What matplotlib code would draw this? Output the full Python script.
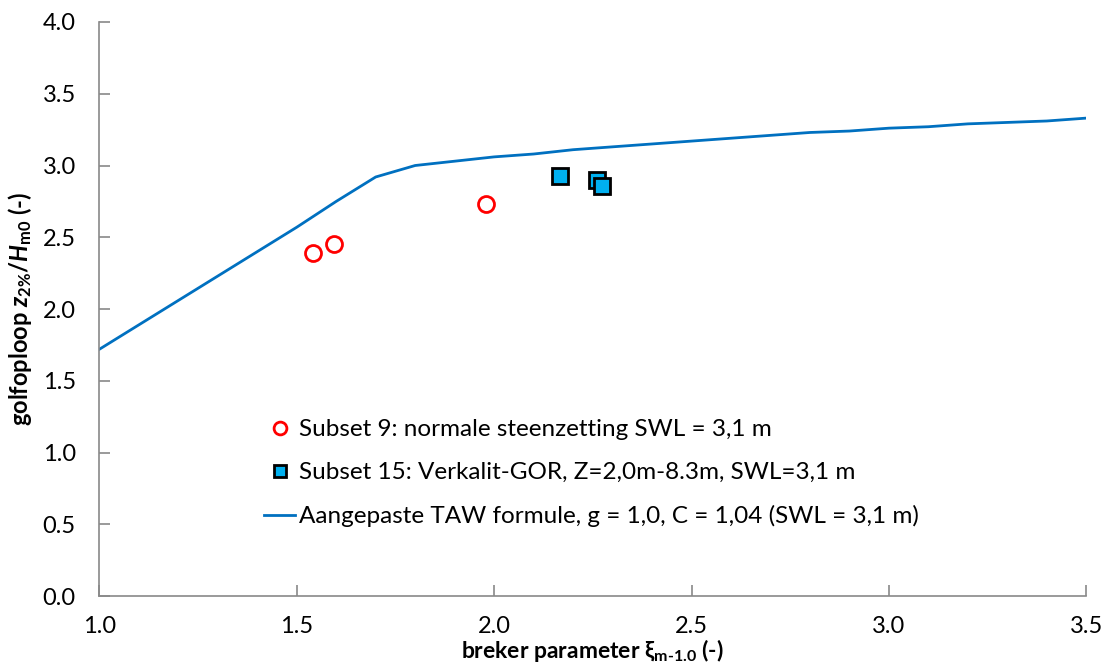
import matplotlib
matplotlib.use('Agg')
import matplotlib.pyplot as plt

# subset 9 (normale steenzetting)
xi_s9 = [1.54, 1.595, 1.98]
z_s9 = [2.39, 2.45, 2.73]

# subset 15 (Verkalit-GOR)
xi_s15 = [2.168, 2.26, 2.272]
z_s15 = [2.93, 2.90, 2.86]

# aangepaste TAW formule
xi_taw = [1.0, 1.1, 1.2, 1.3, 1.4, 1.5, 1.6, 1.7, 1.8, 1.9, 2.0, 2.1, 2.2,
          2.3, 2.4, 2.5, 2.6, 2.7, 2.8, 2.9, 3.0, 3.1, 3.2, 3.3, 3.4, 3.5]
z_taw = [1.72, 1.89, 2.06, 2.23, 2.40, 2.57, 2.75, 2.92, 3.00, 3.03, 3.06,
         3.08, 3.11, 3.13, 3.15, 3.17, 3.19, 3.21, 3.23, 3.24, 3.26, 3.27,
         3.29, 3.30, 3.31, 3.33]

xticks = [1.0, 1.5, 2.0, 2.5, 3.0, 3.5]
yticks = [0.0, 0.5, 1.0, 1.5, 2.0, 2.5, 3.0, 3.5, 4.0]

plt.rcParams['font.family'] = ['Lato', 'DejaVu Sans']
plt.rcParams['mathtext.fontset'] = 'custom'
plt.rcParams['mathtext.rm'] = 'Lato:bold'
plt.rcParams['mathtext.it'] = 'Lato:italic:bold'
plt.rcParams['mathtext.bf'] = 'Lato:bold'

fig = plt.figure(figsize=(11.06, 6.64), dpi=100)
ax = fig.add_axes([0.0898, 0.102, 0.8924, 0.865])

ax.plot(xi_s9, z_s9, 'o', ms=11.5, mfc='white', mec='#FF0000', mew=2,
        label='Subset 9: normale steenzetting SWL = 3,1 m', zorder=3)
ax.plot(xi_s15, z_s15, 's', ms=11.5, mfc='#00B0F0', mec='black', mew=2,
        label='Subset 15: Verkalit-GOR, Z=2,0m-8.3m, SWL=3,1 m', zorder=3)
ax.plot(xi_taw, z_taw, '-', color='#0070C0', lw=2,
        label='Aangepaste TAW formule, g = 1,0, C = 1,04 (SWL = 3,1 m)', zorder=2)

ax.set_xlim(1.0, 3.5)
ax.set_ylim(0.0, 4.0)
ax.set_xticks(xticks)
ax.set_yticks(yticks)
ax.set_xticklabels(['%.1f' % v for v in xticks])
ax.set_yticklabels(['%.1f' % v for v in yticks])
ax.tick_params(direction='in', length=8, width=1.2, color='#898989',
               labelsize=17)
ax.tick_params(axis='y', pad=17)
ax.tick_params(axis='x', pad=14)
for s in ['top', 'right']:
    ax.spines[s].set_visible(False)
for s in ['left', 'bottom']:
    ax.spines[s].set_color('#898989')
    ax.spines[s].set_linewidth(1.2)

ax.set_xlabel(r'breker parameter ξ$_{\mathrm{m\text{-}1.0}}$ (-)',
              fontsize=16.5, fontweight='bold', va='top')
ax.xaxis.set_label_coords(0.5, -0.0715)
ax.set_ylabel(r'golfoploop $z_{2\%}$/$H_{\mathrm{m0}}$ (-)',
              fontsize=17, fontweight='bold', labelpad=6)

ax.legend(loc='upper left', bbox_to_anchor=(0.157, 0.325), frameon=False,
          fontsize=17.5, labelspacing=0.9, handlelength=1.28,
          handletextpad=0.15, markerscale=0.8, borderaxespad=0)

plt.savefig('out.png', dpi=100)
plt.close()
